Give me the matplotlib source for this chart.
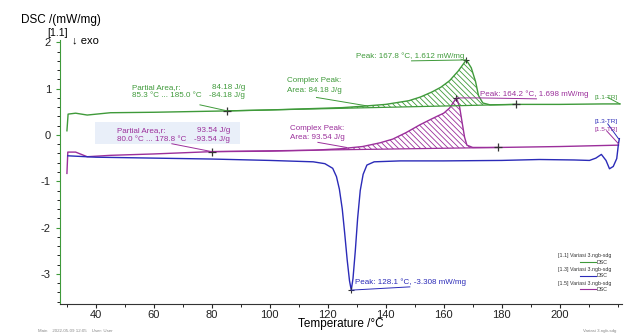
import numpy as np
import matplotlib
matplotlib.use('Agg')
import matplotlib.pyplot as plt
from matplotlib.ticker import MultipleLocator, AutoMinorLocator

plt.rcParams['font.family'] = ['Liberation Sans', 'DejaVu Sans']
plt.rcParams['hatch.linewidth'] = 0.6
plt.rcParams['axes.unicode_minus'] = False

# curve [1.1] (green)
green_t = [30.0, 30.4, 33, 37, 45, 60, 86, 100, 115, 125, 132, 140, 148, 152, 156, 159,
           162, 165, 167.8, 169.5, 171, 172, 173.5, 176, 185, 200, 215, 220.8]
green_y = [0.09, 0.45, 0.47, 0.43, 0.48, 0.49, 0.52, 0.54, 0.57, 0.59, 0.62, 0.66, 0.74, 0.82,
           0.93, 1.03, 1.17, 1.38, 1.62, 1.45, 1.15, 0.85, 0.69, 0.65, 0.66, 0.66, 0.67, 0.67]

# curve [1.5] (purple)
purple_t = [30.0, 30.3, 33, 37, 45, 60, 80, 100, 115, 124, 132, 138, 142.4, 147, 151.8, 155,
            157.6, 160, 162, 164.4, 165.5, 166.3, 167.2, 168, 170, 178.8, 200, 220.3]
purple_y = [-0.83, -0.37, -0.37, -0.47, -0.44, -0.41, -0.36, -0.35, -0.33, -0.30, -0.25, -0.17,
            -0.09, 0.05, 0.22, 0.32, 0.40, 0.47, 0.58, 0.80, 0.60, 0.29, -0.05, -0.22, -0.27,
            -0.27, -0.25, -0.22]

# curve [1.3] (blue)
blue_t = [30.3, 40, 60, 80, 100, 115, 119, 121.7, 123, 124, 125, 125.8, 126.7, 127.5, 128.1,
          128.7, 129.5, 130.3, 131.2, 132.2, 133.5, 136, 145, 160, 180, 193, 205, 210.3, 212.5,
          214.4, 216, 217.2, 218.5, 219.7, 220.3, 220.6]
blue_y = [-0.45, -0.48, -0.50, -0.52, -0.55, -0.58, -0.62, -0.72, -0.90, -1.17, -1.60, -2.10,
          -2.70, -3.15, -3.35, -3.10, -2.50, -1.80, -1.20, -0.85, -0.65, -0.58, -0.56, -0.56,
          -0.55, -0.53, -0.54, -0.55, -0.50, -0.42, -0.55, -0.73, -0.68, -0.51, -0.19, -0.08]

green_limits = [85.3, 185.0]
green_base = [0.52, 0.66]
purple_limits = [80.0, 178.8]
purple_base = [-0.36, -0.27]

GREEN = '#3f9a3a'
BLUE = '#2b2bb8'
PURPLE = '#9b2f9b'

fig = plt.figure(figsize=(6.34, 3.34), dpi=100)
ax = fig.add_axes([0.0946, 0.0898, 0.8864, 0.7904])

ax.plot(green_t, green_y, color=GREEN, lw=1.0)
ax.plot(purple_t, purple_y, color=PURPLE, lw=1.0)
ax.plot(blue_t, blue_y, color=BLUE, lw=1.0)

# hatched peak areas
for t, y, lim, base, col, h in [(green_t, green_y, green_limits, green_base, GREEN, '\\\\\\\\\\\\'),
                                (purple_t, purple_y, purple_limits, purple_base, PURPLE, '\\\\\\\\\\\\')]:
    t = np.array(t)
    y = np.array(y)
    m = (t >= lim[0]) & (t <= lim[1])
    b = np.interp(t[m], lim, base)
    ax.fill_between(t[m], y[m], b, where=y[m] >= b, interpolate=True,
                    facecolor='none', edgecolor=col, hatch=h, lw=0)
    ax.plot(lim, base, color=col, lw=0.9)
    ax.plot(lim, base, '+', color='#333333', ms=6, mew=0.9)

ax.plot([167.8], [1.62], '+', color='#333333', ms=5, mew=0.8)
ax.plot([164.4], [0.80], '+', color='#333333', ms=5, mew=0.8)
ax.plot([128.1], [-3.35], '+', color='#333333', ms=5, mew=0.8)

fs = 5.8
# green annotations
ax.text(52.4, 1.02, 'Partial Area,r:', color=GREEN, fontsize=fs, va='center')
ax.text(52.4, 0.85, '85.3 °C ... 185.0 °C', color=GREEN, fontsize=fs, va='center')
ax.text(91.4, 1.02, '84.18 J/g', color=GREEN, fontsize=fs, va='center', ha='right')
ax.text(91.4, 0.85, '-84.18 J/g', color=GREEN, fontsize=fs, va='center', ha='right')
ax.plot([75.9, 85.3], [0.65, 0.52], color=GREEN, lw=0.7)

ax.text(105.9, 1.17, 'Complex Peak:', color=GREEN, fontsize=fs, va='center')
ax.text(105.9, 0.97, 'Area: 84.18 J/g', color=GREEN, fontsize=fs, va='center')
ax.plot([116.1, 133.3], [0.81, 0.63], color=GREEN, lw=0.7)

ax.text(129.9, 1.71, 'Peak: 167.8 °C, 1.612 mW/mg', color=GREEN, fontsize=fs, va='center')
ax.plot([148.9, 167.8], [1.60, 1.62], color=GREEN, lw=0.7)

ax.text(212.1, 0.81, '[1.1-TR]', color=GREEN, fontsize=4.6, va='center')
ax.plot([216.6, 220.8], [0.81, 0.67], color=GREEN, lw=0.7)

# purple annotations
ax.add_patch(plt.Rectangle((39.7, -0.19), 50.0, 0.48, facecolor='#e9eff9', edgecolor='none', zorder=0))
ax.text(47.2, 0.09, 'Partial Area,r:', color=PURPLE, fontsize=fs, va='center')
ax.text(47.2, -0.10, '80.0 °C ... 178.8 °C', color=PURPLE, fontsize=fs, va='center')
ax.text(86.3, 0.09, '93.54 J/g', color=PURPLE, fontsize=fs, va='center', ha='right')
ax.text(86.3, -0.10, '-93.54 J/g', color=PURPLE, fontsize=fs, va='center', ha='right')
ax.plot([66.2, 80.0], [-0.19, -0.36], color=PURPLE, lw=0.7)

ax.text(106.9, 0.15, 'Complex Peak:', color=PURPLE, fontsize=fs, va='center')
ax.text(106.9, -0.05, 'Area: 93.54 J/g', color=PURPLE, fontsize=fs, va='center')
ax.plot([116.6, 126.5], [-0.16, -0.27], color=PURPLE, lw=0.7)

ax.text(172.4, 0.88, 'Peak: 164.2 °C, 1.698 mW/mg', color=PURPLE, fontsize=fs, va='center')
ax.plot([164.4, 172.4, 192.0], [0.80, 0.80, 0.78], color=PURPLE, lw=0.7)

ax.text(212.1, 0.29, '[1.3-TR]', color=BLUE, fontsize=4.6, va='center')
ax.plot([216.6, 220.3], [0.24, -0.08], color=BLUE, lw=0.7)
ax.text(212.1, 0.11, '[1.5-TR]', color=PURPLE, fontsize=4.6, va='center')
ax.plot([216.2, 220.3], [0.09, -0.19], color=PURPLE, lw=0.7)

# blue annotation
ax.text(129.3, -3.18, 'Peak: 128.1 °C, -3.308 mW/mg', color=BLUE, fontsize=fs, va='center')
ax.plot([128.1, 148.3], [-3.35, -3.28], color=BLUE, lw=0.7)

# axes
ax.set_xlim(27.6, 221.5)
ax.set_ylim(-3.65, 2.05)
ax.xaxis.set_major_locator(MultipleLocator(20))
ax.xaxis.set_minor_locator(MultipleLocator(10))
ax.set_xticks(range(40, 201, 20))
ax.yaxis.set_major_locator(MultipleLocator(1))
ax.yaxis.set_minor_locator(AutoMinorLocator(5))
ax.tick_params(which='major', length=3, width=0.8, labelsize=8, colors='#222222')
ax.tick_params(which='minor', length=2, width=0.6)
ax.tick_params(axis='x', which='major', pad=1)
ax.tick_params(axis='y', colors=GREEN, labelcolor='#222222')
for s in ['top', 'right']:
    ax.spines[s].set_visible(False)
ax.spines['left'].set_color(GREEN)
ax.spines['bottom'].set_color('#333333')
ax.set_xlabel('Temperature /°C', fontsize=8.5, labelpad=-1)

fig.text(0.0327, 0.940, 'DSC /(mW/mg)', fontsize=8.5, va='center')
fig.text(0.0740, 0.902, '[1.1]', fontsize=7.5, va='center')
fig.text(0.113, 0.880, '↓ exo', fontsize=8, va='center')

# legend
for i, (lab, col) in enumerate([('[1.1] Variasi 3.ngb-sdg', GREEN),
                                ('[1.3] Variasi 3.ngb-sdg', BLUE),
                                ('[1.5] Variasi 3.ngb-sdg', PURPLE)]):
    yl = 0.234 - i * 0.0409
    fig.text(0.880, yl, lab, fontsize=3.8, va='center', color='#333333')
    fig.text(0.9416, yl - 0.0187, 'DSC', fontsize=3.8, va='center', color='#333333')
    fig.add_artist(plt.Line2D([0.9148, 0.9400], [yl - 0.0187, yl - 0.0187], color=col, lw=0.8))

fig.text(0.06, 0.006, 'Main    2022-05-09 12:05    User: User', fontsize=3.2, color='#888888')
fig.text(0.92, 0.006, 'Variasi 3.ngb-sdg', fontsize=3.2, color='#888888')

fig.savefig('out.png', dpi=100)
